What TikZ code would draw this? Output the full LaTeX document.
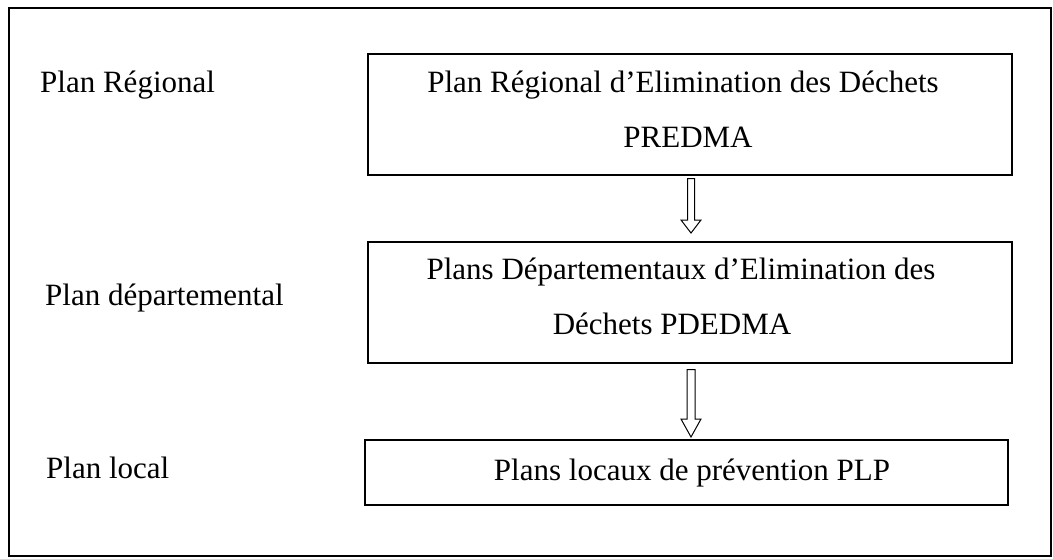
\documentclass[tikz,border=0pt]{standalone}
\usepackage{fontspec}
\setmainfont{Liberation Serif}
\usetikzlibrary{calc}
\begin{document}
\begin{tikzpicture}[x=1pt,y=-1pt,
  frame/.style={draw, line width=1.8pt},
  box/.style={draw, line width=1.5pt, inner sep=0pt, anchor=north west},
  lbl/.style={anchor=base west, inner sep=0pt, font=\fontsize{31}{31}\selectfont},
  txt/.style={anchor=base, inner sep=0pt, font=\fontsize{31}{31}\selectfont},
  barrow/.style={draw, line width=1pt, fill=white, line join=miter}]
\useasboundingbox (0,0) rectangle (1053,558);
\draw[frame] (9,8) rectangle (1051,556);
% boxes
\node[box, minimum width=644pt, minimum height=121pt] (b1) at (367,53) {};
\node[box, minimum width=644pt, minimum height=121pt] (b2) at (367,241) {};
\node[box, minimum width=643pt, minimum height=65pt] (b3) at (364,439) {};
% texts in boxes
\node[txt] (t1a) at (683,92) {Plan Régional d’Elimination des Déchets};
\node[txt] (t1b) at (688,147) {PREDMA};
\node[txt] (t2a) at (681,279) {Plans Départementaux d’Elimination des};
\node[txt] (t2b) at (672,334) {Déchets PDEDMA};
\node[txt] (t3) at (692,480) {Plans locaux de prévention PLP};
% left labels
\node[lbl] (l1) at (40,92) {Plan Régional};
\node[lbl] (l2) at (45,305) {Plan départemental};
\node[lbl] (l3) at (46,478) {Plan local};
% block arrows
\coordinate (ax) at (691,0);
\draw[barrow] let \p1=(b1.south -| ax), \p2=(b2.north -| ax) in
  (\x1-3.5pt,\y1-3pt) -- (\x1+3.5pt,\y1-3pt) -- (\x1+3.5pt,\y2+21pt)
  -- (\x1+10pt,\y2+21pt) -- (\x1,\y2+8pt) -- (\x1-10pt,\y2+21pt)
  -- (\x1-3.5pt,\y2+21pt) -- cycle;
\draw[barrow] let \p1=(b2.south -| ax), \p2=(b3.north -| ax) in
  (\x1-4pt,\y1-6pt) -- (\x1+4pt,\y1-6pt) -- (\x1+4pt,\y2+20pt)
  -- (\x1+10pt,\y2+20pt) -- (\x1,\y2+2pt) -- (\x1-10pt,\y2+20pt)
  -- (\x1-4pt,\y2+20pt) -- cycle;
\end{tikzpicture}
\end{document}
